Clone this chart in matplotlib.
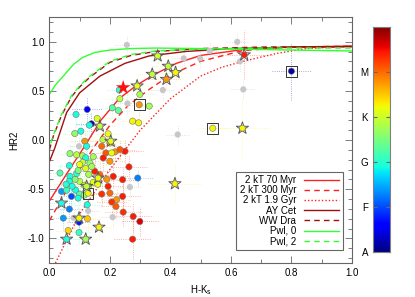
import numpy as np
import matplotlib.pyplot as plt
from matplotlib.lines import Line2D

plt.rcParams['font.family'] = ['Liberation Sans', 'DejaVu Sans']
plt.rcParams['font.size'] = 7

# model curves (H-Ks, HR2)
kt70_x = [0.0, 0.06, 0.117, 0.17, 0.23, 0.29, 0.343, 0.42, 0.5, 0.64, 0.8, 1.0]
kt70_y = [-0.62, -0.33, -0.06, 0.2, 0.42, 0.56, 0.66, 0.78, 0.86, 0.92, 0.945, 0.955]
kt300_x = [0.0, 0.05, 0.1, 0.15, 0.2, 0.26, 0.33, 0.4, 0.5, 0.64, 0.8, 1.0]
kt300_y = [-0.82, -0.55, -0.3, -0.06, 0.15, 0.35, 0.515, 0.66, 0.8, 0.91, 0.945, 0.955]
kt19_x = [0.02, 0.1, 0.2, 0.3, 0.4, 0.5, 0.57, 0.64, 0.75, 0.85, 1.0]
kt19_y = [-1.25, -0.75, -0.3, 0.1, 0.42, 0.65, 0.74, 0.80, 0.88, 0.93, 0.955]
aycet_x = [0.0, 0.018, 0.057, 0.1, 0.167, 0.25, 0.33, 0.45, 0.6, 0.8, 1.0]
aycet_y = [-0.22, -0.08, 0.28, 0.48, 0.65, 0.78, 0.855, 0.9, 0.93, 0.945, 0.95]
wwdra_x = [0.0, 0.013, 0.04, 0.073, 0.1, 0.134, 0.2, 0.27, 0.35, 0.5, 0.7, 1.0]
wwdra_y = [-0.1, 0.04, 0.25, 0.44, 0.54, 0.64, 0.79, 0.86, 0.9, 0.93, 0.945, 0.95]
pwl0_x = [0.0, 0.02, 0.046, 0.08, 0.11, 0.15, 0.2, 0.27, 0.35, 0.5, 0.7, 1.0]
pwl0_y = [0.464, 0.56, 0.65, 0.77, 0.84, 0.89, 0.915, 0.93, 0.935, 0.93, 0.92, 0.905]
pwl2_x = [0.0, 0.013, 0.04, 0.073, 0.1, 0.134, 0.2, 0.27, 0.35, 0.5, 0.7, 1.0]
pwl2_y = [-0.08, 0.05, 0.26, 0.45, 0.55, 0.65, 0.8, 0.87, 0.905, 0.925, 0.935, 0.935]

# colour-coded sources (circles): H-Ks, HR2, spectral type (A=0 ... M=0.8)
circ_hk = [0.231, 0.299, 0.233, 0.33, 0.125, 0.208, 0.228, 0.088, 0.158, 0.275,
           0.295, 0.139, 0.132, 0.104, 0.084, 0.194, 0.177, 0.117, 0.2, 0.123,
           0.173, 0.187, 0.217, 0.25, 0.233, 0.206, 0.068, 0.09, 0.11, 0.12,
           0.145, 0.2, 0.178, 0.11, 0.066, 0.134, 0.263, 0.1, 0.035, 0.068,
           0.09, 0.15, 0.167, 0.242, 0.292, 0.211, 0.19, 0.1, 0.085, 0.066,
           0.145, 0.194, 0.04, 0.057, 0.087, 0.073, 0.1, 0.115, 0.095, 0.173,
           0.2, 0.242, 0.222, 0.206, 0.22, 0.244, 0.066, 0.125, 0.046, 0.098,
           0.126, 0.277, 0.299, 0.098, 0.062, 0.275, 0.13, 0.115, 0.13, 0.075,
           0.055, 0.16, 0.095, 0.12, 0.14]
circ_hr2 = [0.508, 0.464, 0.42, 0.345, 0.311, 0.328, 0.30, 0.26, 0.219, 0.192,
            0.175, 0.165, 0.151, 0.09, 0.066, 0.063, 0.005, -0.012, -0.029, -0.063,
            -0.063, -0.131, -0.12, -0.114, -0.097, -0.131, -0.138, -0.15, -0.16, -0.18,
            -0.17, -0.216, -0.182, -0.226, -0.26, -0.233, -0.273, -0.25, -0.335, -0.37,
            -0.34, -0.318, -0.352, -0.403, -0.386, -0.37, -0.4, -0.42, -0.40, -0.42,
            -0.43, -0.471, -0.522, -0.51, -0.51, -0.573, -0.55, -0.56, -0.59, -0.549,
            -0.539, -0.573, -0.607, -0.63, -0.675, -0.733, -0.702, -0.658, -0.794, -0.835,
            -0.80, -0.777, -0.828, -0.94, -0.92, -1.008, -0.35, -0.46, -0.47, -0.47,
            -0.45, -0.45, -0.31, -0.29, -0.27]
circ_spt = [0.40, 0.55, 0.58, 0.55, 0.12, 0.45, 0.47, 0.38, 0.62, 0.65,
            0.65, 0.05, 0.38, 0.38, 0.52, 0.63, 0.58, 0.75, 0.65, 0.38,
            0.80, 0.82, 0.75, 0.88, 0.82, 0.63, 0.52, 0.58, 0.55, 0.38,
            0.55, 0.75, 0.88, 0.58, 0.38, 0.52, 0.88, 0.63, 0.45, 0.38,
            0.40, 0.88, 0.80, 0.88, 0.25, 0.88, 0.75, 0.58, 0.50, 0.38,
            0.63, 0.88, 0.28, 0.42, 0.38, 0.20, 0.45, 0.52, 0.38, 0.86,
            0.80, 0.88, 0.75, 0.86, 0.82, 0.86, 0.25, 0.38, 0.28, 0.15,
            0.70, 0.88, 0.92, 0.42, 0.68, 0.88, 0.55, 0.60, 0.55, 0.38,
            0.40, 0.63, 0.50, 0.62, 0.55]
circ_hk_err = [0.04, 0.05, 0.04, 0.04, 0.05, 0.04, 0.04, 0.05, 0.05, 0.04,
               0.04, 0.05, 0.04, 0.04, 0.05, 0.04, 0.05, 0.05, 0.05, 0.05,
               0.05, 0.05, 0.05, 0.06, 0.05, 0.05, 0.04, 0.05, 0.04, 0.04,
               0.04, 0.05, 0.05, 0.04, 0.04, 0.05, 0.06, 0.04, 0.04, 0.05,
               0.04, 0.05, 0.05, 0.06, 0.05, 0.05, 0.05, 0.04, 0.04, 0.04,
               0.04, 0.05, 0.04, 0.04, 0.05, 0.04, 0.05, 0.04, 0.04, 0.05,
               0.05, 0.06, 0.05, 0.05, 0.05, 0.06, 0.04, 0.05, 0.04, 0.04,
               0.04, 0.06, 0.06, 0.04, 0.04, 0.06, 0.04, 0.04, 0.04, 0.04,
               0.04, 0.04, 0.04, 0.04, 0.04]
circ_hr2_err = [0.10, 0.10, 0.10, 0.10, 0.12, 0.10, 0.10, 0.12, 0.10, 0.10,
                0.10, 0.12, 0.10, 0.10, 0.10, 0.10, 0.10, 0.10, 0.10, 0.12,
                0.12, 0.12, 0.10, 0.12, 0.10, 0.10, 0.10, 0.10, 0.10, 0.10,
                0.10, 0.10, 0.12, 0.10, 0.12, 0.10, 0.12, 0.10, 0.10, 0.12,
                0.10, 0.12, 0.12, 0.12, 0.08, 0.12, 0.10, 0.10, 0.10, 0.10,
                0.10, 0.12, 0.12, 0.10, 0.10, 0.12, 0.10, 0.10, 0.10, 0.12,
                0.12, 0.14, 0.12, 0.12, 0.12, 0.14, 0.12, 0.12, 0.12, 0.12,
                0.12, 0.15, 0.15, 0.12, 0.12, 0.20, 0.10, 0.10, 0.10, 0.10,
                0.10, 0.10, 0.10, 0.10, 0.10]

# stars
star_hk = [0.358, 0.393, 0.417, 0.34, 0.387, 0.29, 0.644, 0.167, 0.203, 0.161,
           0.123, 0.415, 0.04, 0.098, 0.164, 0.057, 0.12, 0.638]
star_hr2 = [0.855, 0.75, 0.686, 0.668, 0.617, 0.55, 0.866, 0.141, -0.012, -0.386,
            -0.471, -0.444, -0.641, -0.794, -0.886, -1.008, -1.008, 0.12]
star_spt = [0.60, 0.58, 0.65, 0.58, 0.75, 0.63, 0.88, 0.58, 0.63, 0.63,
            0.58, 0.65, 0.38, 0.65, 0.65, 0.38, 0.55, 0.65]
star_hk_err = [0.05, 0.05, 0.05, 0.05, 0.05, 0.05, 0.10, 0.05, 0.05, 0.05,
               0.05, 0.09, 0.04, 0.05, 0.05, 0.04, 0.04, 0.09]
star_hr2_err = [0.10, 0.10, 0.10, 0.10, 0.10, 0.10, 0.25, 0.10, 0.10, 0.10,
                0.10, 0.20, 0.12, 0.12, 0.12, 0.12, 0.12, 0.30]

# boxed sources
box_hk = [0.297, 0.80, 0.54, 0.128]
box_hr2 = [0.359, 0.70, 0.12, -0.54]
box_spt = [0.75, 0.03, 0.65, 0.65]
box_hk_err = [0.04, 0.065, 0.05, 0.04]
box_hr2_err = [0.10, 0.29, 0.10, 0.10]

# sources without spectral type
gray_hk = [0.256, 0.444, 0.375, 0.258, 0.424, 0.621, 0.53, 0.498, 0.63, 0.641,
           0.098, 0.266, 0.128, 0.209, 0.08]
gray_hr2 = [0.967, 0.83, 0.508, 0.372, 0.056, 0.998, 0.906, 0.83, 0.80, 0.515,
            -0.063, -0.478, -0.72, -0.784, -0.79]

# red flare star
flare_hk = [0.244]
flare_hr2 = [0.533]

cmap = plt.get_cmap('jet')

fig = plt.figure(figsize=(4.15, 2.97), dpi=100, facecolor='white')
ax = fig.add_axes([0.119, 0.1145, 0.729, 0.828])

def errs(x, y, xe, ye, colors, z=1):
    for xi, yi, xei, yei, c in zip(x, y, xe, ye, colors):
        ax.plot([xi - xei, xi + xei], [yi, yi], ls=':', lw=0.6, color=c, alpha=0.45, zorder=z)
        ax.plot([xi, xi], [yi - yei, yi + yei], ls=':', lw=0.6, color=c, alpha=0.45, zorder=z)

errs(gray_hk, gray_hr2, [0.04] * len(gray_hk), [0.1] * len(gray_hk), ['0.7'] * len(gray_hk))
errs(circ_hk, circ_hr2, circ_hk_err, circ_hr2_err, [cmap(v) for v in circ_spt])
errs(star_hk, star_hr2, star_hk_err, star_hr2_err, [cmap(v) for v in star_spt])
errs(box_hk, box_hr2, box_hk_err, box_hr2_err, [cmap(v) for v in box_spt])

ax.scatter(gray_hk, gray_hr2, s=20, color='0.78', edgecolors='none', zorder=3)

# model curves
ax.plot(kt70_x, kt70_y, color='#ff2020', lw=1.0, zorder=2)
ax.plot(kt300_x, kt300_y, color='#ff2020', lw=1.0, ls=(0, (4, 3)), zorder=2)
ax.plot(kt19_x, kt19_y, color='#ff2020', lw=1.0, ls=(0, (1, 1.5)), zorder=2)
ax.plot(aycet_x, aycet_y, color='#a01010', lw=1.0, zorder=2)
ax.plot(wwdra_x, wwdra_y, color='#a01010', lw=1.0, ls=(0, (4, 3)), zorder=2)
ax.plot(pwl0_x, pwl0_y, color='#30ff30', lw=1.0, zorder=2)
ax.plot(pwl2_x, pwl2_y, color='#30ff30', lw=1.0, ls=(3.5, (4, 3)), zorder=2)

ax.scatter(circ_hk, circ_hr2, s=20, c=circ_spt, cmap=cmap, vmin=0, vmax=1,
           edgecolors='0.45', linewidths=0.4, zorder=4)
ax.scatter(box_hk, box_hr2, s=60, marker='s', facecolors='none',
           edgecolors='0.2', linewidths=0.7, zorder=4)
ax.scatter(box_hk, box_hr2, s=20, c=box_spt, cmap=cmap, vmin=0, vmax=1,
           edgecolors='0.45', linewidths=0.4, zorder=5)
ax.scatter(star_hk, star_hr2, s=85, marker='*', facecolors='none',
           edgecolors='0.35', linewidths=0.7, zorder=5)
ax.scatter(star_hk, star_hr2, s=18, c=star_spt, cmap=cmap, vmin=0, vmax=1,
           edgecolors='0.45', linewidths=0.4, zorder=6)
ax.scatter(flare_hk, flare_hr2, s=120, marker='*', color='#ff1010',
           edgecolors='none', zorder=6)

ax.set_xlim(0, 1)
ax.set_ylim(-1.25, 1.25)
ax.set_xticks([0.0, 0.2, 0.4, 0.6, 0.8, 1.0])
ax.set_yticks([-1.0, -0.5, 0.0, 0.5, 1.0])
ax.set_xticks(np.arange(0, 1.01, 0.1), minor=True)
ax.set_yticks(np.arange(-1.2, 1.21, 0.1), minor=True)
ax.xaxis.set_major_formatter(plt.FormatStrFormatter('%.1f'))
ax.yaxis.set_major_formatter(plt.FormatStrFormatter('%.1f'))
ax.tick_params(which='both', direction='in', top=True, right=True, color='0.4')
ax.tick_params(which='major', length=5, width=0.6)
ax.tick_params(which='minor', length=3, width=0.6)
for s in ax.spines.values():
    s.set_color('0.4')
    s.set_linewidth(0.8)
ax.set_xlabel('H-K$_{\\rm s}$', labelpad=4)
ax.set_ylabel('HR2', labelpad=6)

handles = [
    Line2D([], [], color='#ff2020', lw=1.0),
    Line2D([], [], color='#ff2020', lw=1.0, ls=(0, (4, 3))),
    Line2D([], [], color='#ff2020', lw=1.0, ls=(0, (1, 1.5))),
    Line2D([], [], color='#a01010', lw=1.0),
    Line2D([], [], color='#a01010', lw=1.0, ls=(0, (4, 3))),
    Line2D([], [], color='#30ff30', lw=1.0),
    Line2D([], [], color='#30ff30', lw=1.0, ls=(0, (4, 3))),
]
labels = ['2 kT 70 Myr', '2 kT 300 Myr', '2 kT 1.9 Gyr', 'AY Cet', 'WW Dra',
          'Pwl, 0', 'Pwl, 2']
leg = ax.legend(handles, labels, loc='lower right', bbox_to_anchor=(0.985, 0.035),
                markerfirst=False, fontsize=7, handlelength=3.6,
                labelspacing=0.02, borderpad=0.35, handletextpad=0.8,
                fancybox=False, framealpha=1, edgecolor='0.4')
leg.get_frame().set_linewidth(0.8)
for t in leg.get_texts():
    t.set_ha('right')
leg._legend_box.align = 'right'

cax = fig.add_axes([0.899, 0.1515, 0.041, 0.758])
grad = np.linspace(0, 1, 256).reshape(-1, 1)
cax.imshow(grad, aspect='auto', cmap=cmap, origin='lower', extent=[0, 1, 0, 1])
cax.set_xticks([])
cax.set_yticks([0.0, 0.2, 0.4, 0.6, 0.8])
cax.set_yticklabels(['A', 'F', 'G', 'K', 'M'])
cax.tick_params(axis='y', direction='in', left=True, right=True, length=3,
                color='0.4', labelsize=7)
for s in cax.spines.values():
    s.set_color('0.5')

fig.savefig('out.png', dpi=100, facecolor='white')
